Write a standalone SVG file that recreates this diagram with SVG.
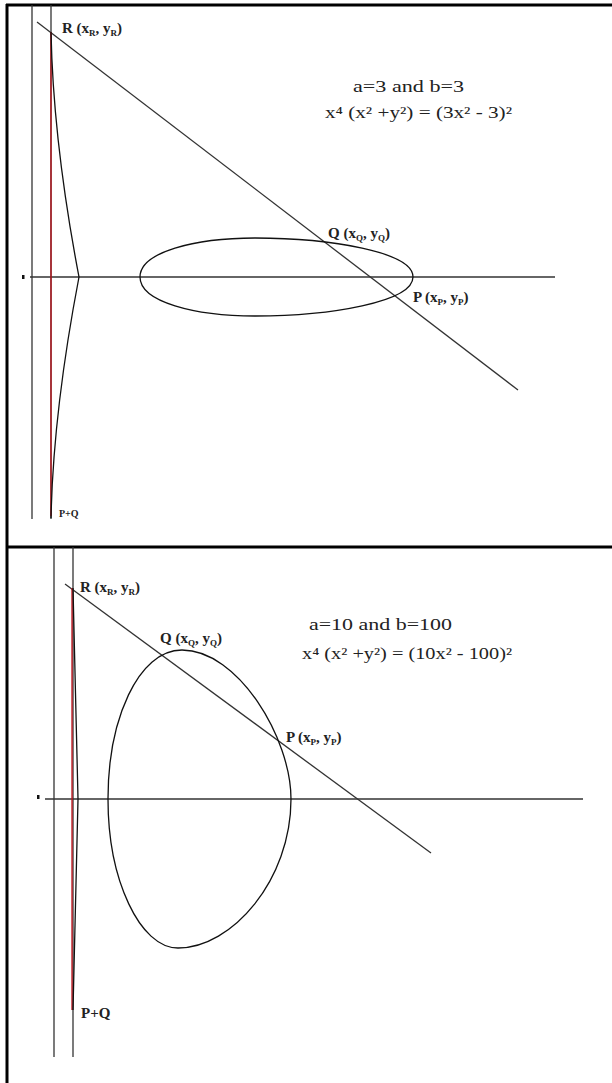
<svg xmlns="http://www.w3.org/2000/svg" width="612" height="1083" viewBox="0 0 612 1083">
<style>
.bg{fill:#fff}
.frame{stroke:#000;stroke-width:3;fill:none}
.axis{stroke:#333;stroke-width:1.3;fill:none}
.curve{stroke:#111;stroke-width:1.3;fill:none}
.red{stroke:#c0101a;stroke-width:1.3;fill:none}
.lbl{font-family:"Liberation Serif","DejaVu Serif",serif;font-weight:bold;font-size:15px;fill:#222}
.sub{font-size:9px}
.eq{font-family:"Liberation Serif","DejaVu Serif",serif;font-size:16px;fill:#222}
.tick{fill:#111}
</style>
<rect class="bg" x="0" y="0" width="612" height="1083"/>
<g id="frame">
<line class="frame" x1="7" y1="4" x2="7" y2="1083"/>
<line class="frame" x1="6" y1="5" x2="612" y2="5"/>
<line class="frame" x1="6" y1="547" x2="612" y2="547"/>
</g>
<g id="connectors">
<line class="axis" x1="32" y1="5" x2="32" y2="519"/>
<line class="axis" x1="51" y1="5" x2="51" y2="519"/>
<line class="axis" x1="30" y1="277" x2="555" y2="277"/>
<rect class="tick" x="22" y="275" width="2.5" height="4"/>
<line class="axis" x1="37" y1="22" x2="518" y2="390"/>
<line class="red" x1="51" y1="32" x2="51" y2="516"/>
<line class="axis" x1="54" y1="547" x2="54" y2="1057"/>
<line class="axis" x1="73" y1="547" x2="73" y2="1057"/>
<line class="axis" x1="45" y1="799" x2="583" y2="799"/>
<rect class="tick" x="37" y="795" width="2.5" height="4"/>
<line class="axis" x1="65" y1="584" x2="431" y2="853"/>
<line class="red" x1="72" y1="588" x2="72" y2="1010"/>
</g>
<g id="curve-top-left">
<path class="curve" d="M51,32 C53,130 70,230 79,277 C70,324 53,424 51,518"/>
</g>
<g id="curve-top-oval">
<path class="curve" d="M140,277 C140,252 195,238 255,238 C330,238 413,252 413,277 C413,302 330,316 255,316 C195,316 140,302 140,277 Z"/>
</g>
<g id="curve-bottom-left">
<path class="curve" d="M73,588 C75,700 77,760 78,799 C77,840 75,900 73,1010"/>
</g>
<g id="curve-bottom-oval">
<path class="curve" d="M182,650 C138,650 108,720 108,799 C108,880 140,948 178,948 C232,948 291,880 291,799 C291,738 238,650 182,650 Z"/>
</g>
<g id="label-R-top"><text class="lbl" x="62" y="33">R (x<tspan class="sub" dy="3">R</tspan><tspan dy="-3">, y</tspan><tspan class="sub" dy="3">R</tspan><tspan dy="-3">)</tspan></text></g>
<g id="label-Q-top"><text class="lbl" x="328" y="238">Q (x<tspan class="sub" dy="3">Q</tspan><tspan dy="-3">, y</tspan><tspan class="sub" dy="3">Q</tspan><tspan dy="-3">)</tspan></text></g>
<g id="label-P-top"><text class="lbl" x="413" y="302">P (x<tspan class="sub" dy="3">P</tspan><tspan dy="-3">, y</tspan><tspan class="sub" dy="3">P</tspan><tspan dy="-3">)</tspan></text></g>
<g id="label-PQ-top"><text class="lbl" x="59" y="517" style="font-size:10px">P+Q</text></g>
<g id="eq-top">
<text class="eq" x="353" y="92" textLength="111" lengthAdjust="spacingAndGlyphs">a=3 and b=3</text>
<text class="eq" x="325" y="118" textLength="187" lengthAdjust="spacingAndGlyphs">x⁴ (x² +y²) = (3x² - 3)²</text>
</g>
<g id="label-R-bottom"><text class="lbl" x="80" y="592">R (x<tspan class="sub" dy="3">R</tspan><tspan dy="-3">, y</tspan><tspan class="sub" dy="3">R</tspan><tspan dy="-3">)</tspan></text></g>
<g id="label-Q-bottom"><text class="lbl" x="160" y="643">Q (x<tspan class="sub" dy="3">Q</tspan><tspan dy="-3">, y</tspan><tspan class="sub" dy="3">Q</tspan><tspan dy="-3">)</tspan></text></g>
<g id="label-P-bottom"><text class="lbl" x="286" y="742">P (x<tspan class="sub" dy="3">P</tspan><tspan dy="-3">, y</tspan><tspan class="sub" dy="3">P</tspan><tspan dy="-3">)</tspan></text></g>
<g id="label-PQ-bottom"><text class="lbl" x="81" y="1018">P+Q</text></g>
<g id="eq-bottom">
<text class="eq" x="309" y="630" textLength="143" lengthAdjust="spacingAndGlyphs">a=10 and b=100</text>
<text class="eq" x="302" y="659" textLength="210" lengthAdjust="spacingAndGlyphs">x⁴ (x² +y²) = (10x² - 100)²</text>
</g>
</svg>
